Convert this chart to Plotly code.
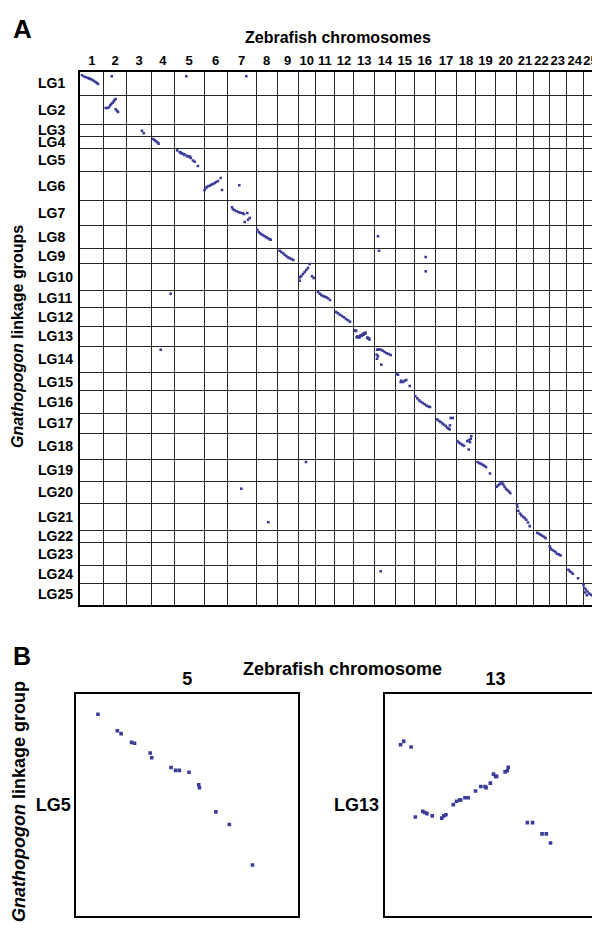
import plotly.graph_objects as go
from itertools import accumulate

# zebrafish chromosomes (columns) and Gnathopogon linkage groups (rows), relative lengths
chromosomes = [str(i) for i in range(1, 26)]
chr_len = [23.7, 23.0, 24.6, 23.0, 29.7, 23.0, 29.0, 21.3, 20.7, 17.3, 19.0, 19.4, 21.0,
           20.6, 18.7, 21.7, 20.6, 19.4, 19.6, 21.0, 17.4, 15.6, 16.7, 17.3, 14.4]
linkage_groups = ["LG" + str(i) for i in range(1, 26)]
lg_len = [23.0, 29.3, 12.0, 12.0, 23.0, 28.7, 25.7, 23.0, 14.6, 26.7, 17.0, 19.3, 19.7,
          26.7, 18.0, 23.0, 19.6, 26.0, 22.0, 22.0, 26.7, 12.3, 23.0, 18.0, 22.0]

# LG5 x chr5 and LG13 x chr13 (shown enlarged in panel B)
lg5_x = [2.9, 5.5, 6.0, 7.4, 7.8, 9.9, 10.1, 12.7, 13.3, 13.8, 15.1, 16.4, 16.5, 18.7, 20.5, 23.6]
lg5_y = [2.1, 3.8, 4.1, 5.0, 5.1, 6.1, 6.6, 7.6, 7.9, 7.9, 8.1, 9.4, 9.7, 12.2, 13.5, 17.7]
lg13_x = [1.5, 1.8, 2.5, 2.9, 3.6, 3.8, 4.0, 4.5, 5.4, 5.6, 5.8, 6.5, 6.8, 7.1, 7.2, 7.6, 7.9,
          8.6, 9.1, 9.5, 9.6, 10.0, 10.3, 10.5, 10.6, 11.4, 11.6, 11.7, 13.5, 14.0, 14.9, 15.3, 15.7]
lg13_y = [4.5, 4.2, 4.7, 10.9, 10.4, 10.5, 10.6, 10.8, 11.0, 10.8, 10.7, 9.8, 9.5, 9.4, 9.4, 9.2, 9.2,
          8.6, 8.2, 8.2, 8.3, 7.9, 7.1, 7.3, 7.3, 6.9, 6.8, 6.5, 11.4, 11.4, 12.4, 12.4, 13.2]

# other syntenic hits: linkage group, chromosome, positions on chromosome / on linkage group
block_lg = [1, 1, 1, 1, 2, 3, 4, 6, 6, 7, 8, 8, 9, 9, 9, 10, 10, 11, 11, 12,
            14, 14, 15, 16, 17, 18, 19, 19, 20, 20, 21, 21, 22, 23, 24, 24, 25]
block_chr = [1, 2, 5, 7, 2, 3, 4, 6, 7, 7, 8, 14, 9, 14, 16, 10, 16, 4, 11, 12,
             4, 14, 15, 16, 17, 18, 10, 19, 7, 20, 8, 21, 22, 23, 14, 24, 25]
block_x = [
    [2, 4, 6, 8, 9.5, 11, 12.5, 14, 15.5, 17, 18],
    [8], [12], [19.3],
    [2, 3.6, 5.3, 6.6, 7.6, 9, 10, 11, 12, 12, 13.3, 14.3],
    [15.3, 17],
    [2, 3.3, 4.7, 6, 7.3],
    [0.5, 1.3, 2.7, 4, 5.7, 7.3, 9, 10.7, 12.3, 14, 16.7, 18],
    [12.3],
    [5, 6, 7.7, 9.7, 11.7, 13.7, 15.7, 17, 20.3, 22.7, 21, 17.7],
    [1.3, 2.7, 4, 5.3, 7, 8.7, 10.3, 12, 13.7, 14.7],
    [3.3],
    [2.4, 4, 5.7, 7.4, 9, 10.7, 12.4, 14, 16],
    [4.3], [11.7],
    [11.7, 10, 8.3, 6.7, 5, 3.3, 2, 1.7, 14, 15.7],
    [11.7], [19.4],
    [2.7, 4.4, 6, 7.7, 9.4, 11, 12.7, 14.7],
    [2, 3.7, 5.7, 7.7, 9.7, 11.7, 13.7, 15.7],
    [9.4],
    [2.6, 4, 6, 8, 10, 12, 14, 16, 2, 3.3, 2.3, 6.6],
    [1, 2.7, 5.4, 6, 7.7, 9.4, 11, 14.4],
    [1.3, 3.3, 5, 6.7, 8.7, 10.7, 12.7, 14.7, 16],
    [1.6, 3.3, 5, 6.6, 8.3, 10, 11.6, 13, 14.3, 15, 17, 14],
    [1, 2.7, 4.4, 6, 7.7, 11, 12.7, 14.4, 15, 12.4, 13.7],
    [8],
    [2, 3.7, 5.3, 7, 8.7, 10.3, 14.3],
    [14.3],
    [1.3, 2.7, 4, 5.3, 7, 8, 9.3, 10.7, 12, 13.7, 15],
    [12.3],
    [0.7, 1, 2, 3.7, 5, 6.7, 8.4, 10, 11.7, 13.4],
    [3.5, 5.2, 6.9, 8.5, 10.2, 11.9],
    [0.5, 1.2, 2.5, 4.5, 6.2, 7.8, 9.5, 11.2],
    [6],
    [2.5, 3.8, 5.2, 6.8, 12.1],
    [0.2, 0.9, 2.5, 4.2, 5.9, 7.5, 9.5, 1.5, 3.5],
]
block_y = [
    [3.3, 4.5, 5.2, 6, 6.6, 7.2, 8, 9, 10, 11, 12],
    [4.3], [4.3], [4.3],
    [13, 13, 12.3, 10.3, 9, 7.7, 6.3, 5, 4, 14.3, 15.7, 17],
    [6.4, 9],
    [2.7, 4, 5, 6, 7.3],
    [19, 17.4, 16, 15, 14.4, 13.4, 12.7, 11.7, 10.7, 9.7, 6.7, 18.7],
    [14],
    [7.3, 9.3, 10.3, 11.3, 12.3, 12.7, 13.3, 14, 13, 18, 19.7, 22],
    [4, 6.3, 7.6, 8.6, 9.6, 10.6, 11.6, 12.6, 13.6, 14],
    [10.6],
    [2, 3.3, 4.6, 6, 7.3, 8.6, 9.6, 10.3, 11.3],
    [2], [8.3],
    [0.7, 4.7, 6.7, 8.7, 10.7, 12.7, 14, 17.4, 13, 14.7],
    [8], [3.7],
    [2, 3.7, 5, 6, 6.7, 7.3, 8.3, 10],
    [5, 6.3, 7.7, 9, 10.3, 12, 13.3, 14.7],
    [3.7],
    [3.7, 3.3, 3.7, 4.7, 6, 7.3, 8, 9, 8.7, 10.3, 12.7, 18.7],
    [1.3, 2, 9.3, 8, 9.3, 8, 7.3, 13.3],
    [5.6, 7.6, 9.6, 11, 12.3, 13.6, 15, 16, 16.3],
    [5.7, 7.3, 8.3, 9.7, 11, 12.3, 14, 15, 11.7, 4.3, 4.3, 15.7],
    [7.8, 9.2, 10.5, 11.5, 12.5, 7.8, 6.8, 5.5, 2.8, 16.2, 8.8],
    [2.7],
    [2.8, 3.8, 4.5, 5.5, 6.5, 7.8, 14.2],
    [7.4],
    [5.5, 4.2, 3.2, 2.2, 0.8, 3.2, 5.5, 7.5, 8.8, 10.2, 11.8],
    [19],
    [1.2, 3.5, 7.5, 10.2, 11.8, 13.5, 14.8, 16.5, 19.2, 22.8],
    [2.8, 3.8, 4.8, 5.8, 6.8, 8.1],
    [4.1, 6.1, 7.5, 8.5, 9.8, 11.5, 12.1, 13.1],
    [6],
    [4.4, 6, 7, 8.4, 13],
    [1.5, 4.5, 6.2, 8.2, 10.2, 11.5, 12.8, 9.2, 11.8],
]

# cumulative offsets for the grid
chr_start = [0] + list(accumulate(chr_len))[:-1]
lg_start = [0] + list(accumulate(lg_len))[:-1]
x_bounds = [0] + list(accumulate(chr_len))
y_bounds = [0] + list(accumulate(lg_len))
chr_mid = [s + w / 2 for s, w in zip(chr_start, chr_len)]
lg_mid = [s + h / 2 for s, h in zip(lg_start, lg_len)]

gx, gy = [], []
for lg, ch, xs, ys in zip(block_lg, block_chr, block_x, block_y):
    gx += [chr_start[ch - 1] + v for v in xs]
    gy += [lg_start[lg - 1] + v for v in ys]
gx += [chr_start[4] + v for v in lg5_x] + [chr_start[12] + v for v in lg13_x]
gy += [lg_start[4] + v for v in lg5_y] + [lg_start[12] + v for v in lg13_y]

DOT = "#3c3c98"
FONT = "Liberation Sans"
W, H = 600, 929


def px(x):
    return x / W


def py(y):
    return 1 - y / H


def b(t):
    return "<b>" + t + "</b>"


fig = go.Figure()
fig.add_trace(go.Scatter(x=gx, y=gy, mode="markers", xaxis="x", yaxis="y",
                         marker=dict(symbol="square", size=2.6, color=DOT)))
fig.add_trace(go.Scatter(x=lg5_x, y=lg5_y, mode="markers", xaxis="x2", yaxis="y2",
                         marker=dict(symbol="square", size=3.6, color=DOT)))
fig.add_trace(go.Scatter(x=lg13_x, y=lg13_y, mode="markers", xaxis="x3", yaxis="y3",
                         marker=dict(symbol="square", size=3.6, color=DOT)))

grid_minor = dict(ticks="", showgrid=True, gridcolor="#262626", gridwidth=1)
box = dict(showline=True, linecolor="black", linewidth=2, mirror=True,
           zeroline=False, showgrid=False, ticks="", tickangle=0)
big = dict(family=FONT, size=18, color="black")

fig.update_layout(
    width=W, height=H, margin=dict(l=0, r=0, t=0, b=0),
    plot_bgcolor="white", paper_bgcolor="white", showlegend=False,
    xaxis=dict(box, domain=[px(72), px(589.7)], range=[0, x_bounds[-1]], side="top",
               tickmode="array", tickvals=chr_mid, ticktext=[b(c) for c in chromosomes],
               tickfont=dict(family=FONT, size=13, color="black"),
               minor=dict(grid_minor, tickmode="array", tickvals=x_bounds)),
    yaxis=dict(box, domain=[py(597.3), py(64)], range=[y_bounds[-1], 0],
               showticklabels=False,
               minor=dict(grid_minor, tickmode="array", tickvals=y_bounds)),
    xaxis2=dict(box, domain=[px(68.3), px(290)], range=[0, chr_len[4]], side="top",
                anchor="y2", tickmode="array", tickvals=[chr_len[4] / 2],
                ticktext=[b(chromosomes[4])], tickfont=big),
    yaxis2=dict(box, domain=[py(908.3), py(686)], range=[lg_len[4], 0], anchor="x2",
                tickmode="array", tickvals=[lg_len[4] / 2],
                ticktext=[b(linkage_groups[4])], tickfont=big),
    xaxis3=dict(box, domain=[px(376.7), px(598.5)], range=[0, chr_len[12]], side="top",
                anchor="y3", tickmode="array", tickvals=[chr_len[12] / 2],
                ticktext=[b(chromosomes[12])], tickfont=big),
    yaxis3=dict(box, domain=[py(908.3), py(686)], range=[lg_len[12], 0], anchor="x3",
                tickmode="array", tickvals=[lg_len[12] / 2],
                ticktext=[b(linkage_groups[12])], tickfont=big),
)

ann = []
for name, mid in zip(linkage_groups, lg_mid):
    ann.append(dict(x=px(28), xref="paper", y=mid, yref="y", text=b(name), showarrow=False,
                    xanchor="left", yanchor="middle",
                    font=dict(family=FONT, size=14, color="black")))
titles = [
    ("A", 3, 4, 26, "left", "top", 0),
    ("B", 3, 632, 25, "left", "top", 0),
    ("Zebrafish chromosomes", 330, 30, 16, "center", "middle", 0),
    ("Zebrafish chromosome", 334, 661, 18, "center", "middle", 0),
    ("<i>Gnathopogon</i> linkage groups", 10, 329, 16, "center", "middle", -90),
    ("<i>Gnathopogon</i> linkage group", 11, 794, 18, "center", "middle", -90),
]
for text, x, y, size, xa, ya, ang in titles:
    ann.append(dict(x=px(x), y=py(y), xref="paper", yref="paper", text=b(text), showarrow=False,
                    xanchor=xa, yanchor=ya, textangle=ang,
                    font=dict(family=FONT, size=size, color="black")))
fig.update_layout(annotations=ann)

fig.write_html("out.html")
